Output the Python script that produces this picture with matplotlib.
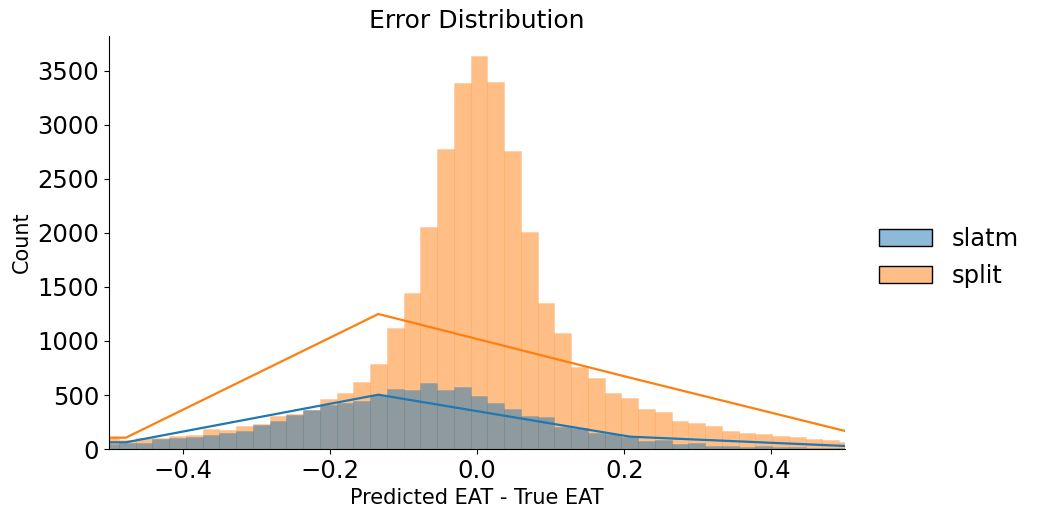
import numpy as np
import matplotlib
matplotlib.use("Agg")
import matplotlib.pyplot as plt
from matplotlib.patches import Patch
from matplotlib.colors import to_rgba

# histogram bins (only the part inside the visible window)
first_edge = -0.5093
bin_width = 0.02276

split_counts = [105, 83, 99, 105, 120, 130, 185, 176, 213, 231, 306, 324, 360,
                463, 515, 620, 787, 1120, 1444, 2056, 2778, 3389, 3639, 3398,
                2759, 2009, 1352, 1074, 759, 657, 519, 472, 370, 343, 259, 241,
                213, 167, 148, 139, 120, 111, 93, 83, 65]
slatm_counts = [50, 52, 59, 88, 105, 111, 130, 151, 167, 222, 259, 315, 365,
                404, 423, 448, 500, 556, 546, 611, 546, 574, 491, 426, 370, 306,
                296, 207, 191, 145, 136, 108, 77, 83, 46, 59, 28, 28, 15, 28, 22,
                15, 12, 9, 6]

# coarse kde curves (grid points, scaled to counts)
kde_x = [-0.820, -0.477, -0.134, 0.208, 0.551]
split_kde = [100, 105, 1250, 660, 81]
slatm_kde = [60, 62, 503, 114, 13]

labels = ["slatm", "split"]
blue = "#1f77b4"
orange = "#ff7f0e"

edges = first_edge + bin_width * np.arange(len(split_counts))

fig = plt.figure(figsize=(10.4, 5.18), dpi=100)
ax = fig.add_axes([0.1048, 0.1332, 0.7077, 0.7973])

ax.bar(edges, split_counts, width=bin_width, align="edge",
       color=to_rgba(orange, 0.5), edgecolor=to_rgba(orange, 0.25), linewidth=0.4)
ax.bar(edges, slatm_counts, width=bin_width, align="edge",
       color=to_rgba(blue, 0.5), edgecolor=to_rgba(blue, 0.25), linewidth=0.4)

ax.plot(kde_x, slatm_kde, color=blue, lw=1.6)
ax.plot(kde_x, split_kde, color=orange, lw=1.6)

ax.set_xlim(-0.5, 0.5)
ax.set_ylim(0, 3824)
ax.set_xticks([-0.4, -0.2, 0.0, 0.2, 0.4])
ax.set_yticks(range(0, 4000, 500))
ax.tick_params(labelsize=17.5)
ax.spines["top"].set_visible(False)
ax.spines["right"].set_visible(False)

ax.set_title("Error Distribution", fontsize=18)
ax.set_xlabel("Predicted EAT - True EAT", fontsize=15)
ax.set_ylabel("Count", fontsize=15)

handles = [Patch(facecolor=to_rgba(blue, 0.5), edgecolor="black"),
           Patch(facecolor=to_rgba(orange, 0.5), edgecolor="black")]
fig.legend(handles, labels, loc="center left", bbox_to_anchor=(0.824, 0.503),
           frameon=False, fontsize=17.5, handlelength=2.2)

fig.savefig("out.png", dpi=100)
